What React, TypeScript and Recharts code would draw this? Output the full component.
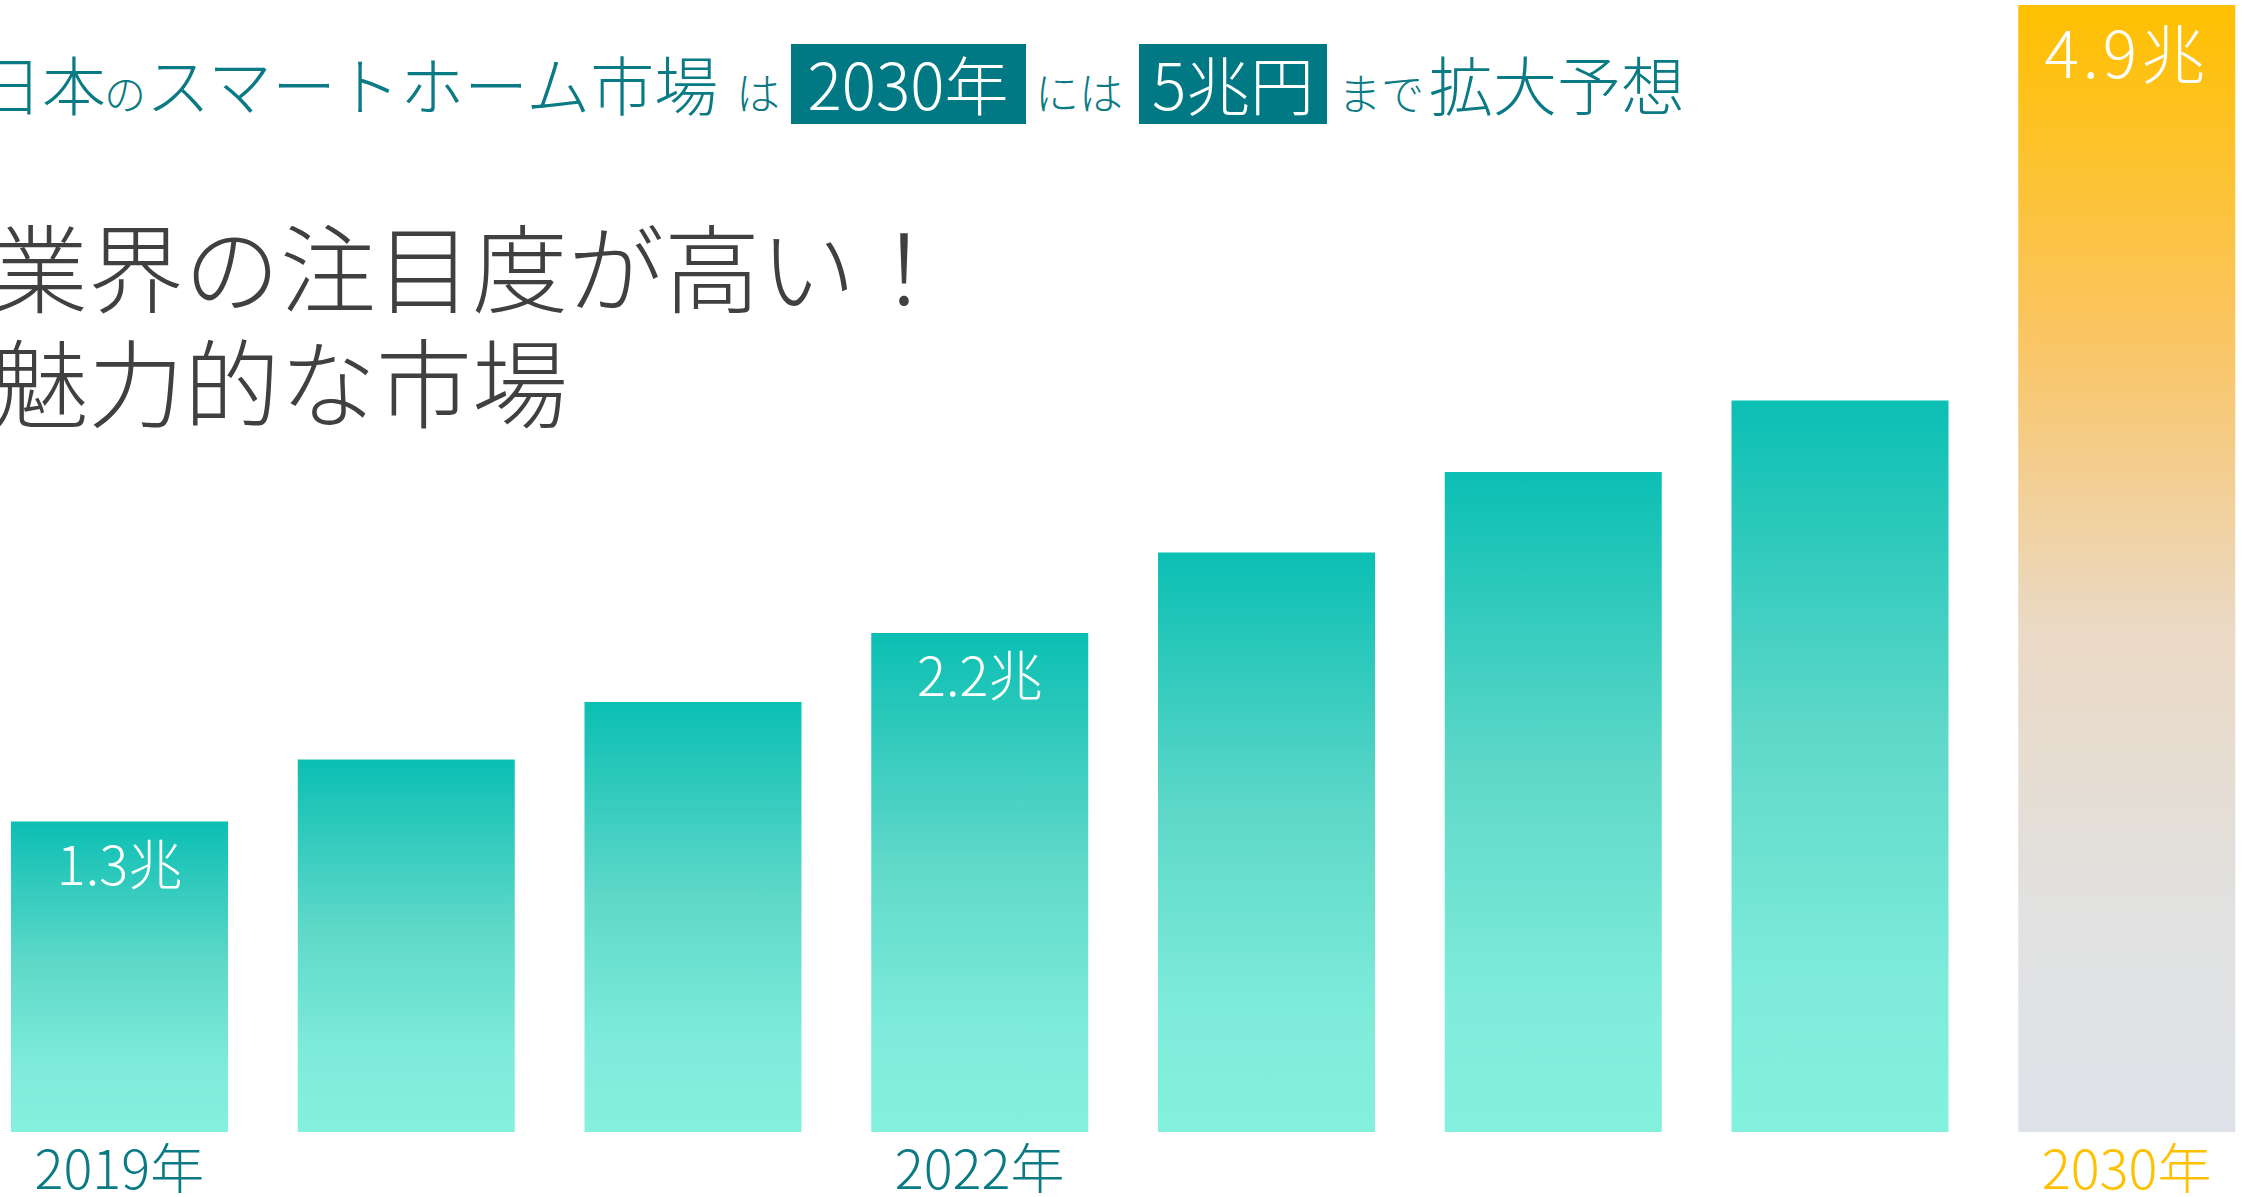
import React from 'react';
import { BarChart, Bar, XAxis, YAxis, Cell, LabelList } from 'recharts';

const categories = ['2019年', '2020年', '2021年', '2022年', '2023年', '2024年', '2025年', '2030年'];
const marketSize = [1.35, 1.62, 1.87, 2.17, 2.52, 2.87, 3.18, 4.9];
const valueLabels = ['1.3兆', '', '', '2.2兆', '', '', '', '4.9兆'];
const tickLabels = ['2019年', '', '', '2022年', '', '', '', '2030年'];
const headlineLines = ['業界の注目度が高い！', '魅力的な市場'];

const data = categories.map((c, i) => ({ category: c, value: marketSize[i], label: valueLabels[i], tick: tickLabels[i] }));

const FONT = "'Noto Sans CJK JP', 'Noto Sans', sans-serif";
const TEAL_TEXT = '#0A7A85';
const TEAL_BOX = '#007985';
const GOLD = '#FFC000';

const renderTick = (props: any) => {
  const { x, y, index } = props;
  const t = tickLabels[index];
  if (!t) return <g />;
  const last = index === tickLabels.length - 1;
  return (
    <text x={x} y={y + 25} textAnchor="middle" dominantBaseline="central" fontFamily={FONT} fontWeight={300} fontSize={54} fill={last ? GOLD : TEAL_TEXT}>
      {t}
    </text>
  );
};

const renderValueLabel = (props: any) => {
  const { x, y, width, index } = props;
  const t = valueLabels[index];
  if (!t) return <g />;
  const last = index === valueLabels.length - 1;
  return (
    <text x={x + width / 2} y={y + (last ? 45 : 40)} textAnchor="middle" dominantBaseline="central" fontFamily={FONT} fontWeight={300} fontSize={last ? 64 : 54} fill="#ffffff" letterSpacing={last ? 4 : 0}>
      {t}
    </text>
  );
};

const Title = () => (
  <svg width={2244} height={450} style={{ position: 'absolute', left: 0, top: 0 }}>
    <g fontFamily={FONT} fontWeight={300}>
      <text x={-22} y={110} fontSize={64} fill={TEAL_TEXT}>日本</text>
      <text x={104} y={110} fontSize={42} fill={TEAL_TEXT}>の</text>
      <text x={146} y={110} fontSize={64} fill={TEAL_TEXT}>スマートホーム市場</text>
      <text x={736} y={110} fontSize={44} fill={TEAL_TEXT}>は</text>
      <rect x={791} y={44} width={235} height={80} fill={TEAL_BOX} />
      <text x={908} y={110} fontSize={64} fill="#ffffff" textAnchor="middle">2030年</text>
      <text x={1035} y={110} fontSize={44} fill={TEAL_TEXT}>には</text>
      <rect x={1139} y={44} width={188} height={80} fill={TEAL_BOX} />
      <text x={1233} y={110} fontSize={64} fill="#ffffff" textAnchor="middle">5兆円</text>
      <text x={1338} y={110} fontSize={43} fill={TEAL_TEXT}>まで</text>
      <text x={1429} y={110} fontSize={64} fill={TEAL_TEXT}>拡大予想</text>
      <text x={-8} y={305} fontSize={96} fill="#404040">{headlineLines[0]}</text>
      <text x={-8} y={420} fontSize={96} fill="#404040">{headlineLines[1]}</text>
    </g>
  </svg>
);

export default function App() {
  return (
    <div style={{ position: 'fixed', left: 0, top: 0, width: 2244, height: 1197, overflow: 'hidden', background: '#ffffff' }}>
      <div style={{ position: 'absolute', left: -24, top: 0 }}>
        <BarChart width={2294} height={1197} data={data} margin={{ top: 5, right: 0, left: 0, bottom: 0 }}>
          <defs>
            <linearGradient id="tealGrad" x1="0" y1="0" x2="0" y2="1">
              <stop offset="0%" stopColor="#0BBFB3" />
              <stop offset="45%" stopColor="#5ED8C9" />
              <stop offset="80%" stopColor="#7FECDB" />
              <stop offset="100%" stopColor="#84F0DE" />
            </linearGradient>
            <linearGradient id="goldGrad" x1="0" y1="0" x2="0" y2="1">
              <stop offset="0%" stopColor="#FFC000" />
              <stop offset="30%" stopColor="#FAC565" />
              <stop offset="55%" stopColor="#EBD9C4" />
              <stop offset="80%" stopColor="#E1E1E0" />
              <stop offset="100%" stopColor="#DEE2E8" />
            </linearGradient>
          </defs>
          <XAxis dataKey="category" axisLine={false} tickLine={false} height={65} interval={0} tick={renderTick} />
          <YAxis hide domain={[0, 4.9]} />
          <Bar dataKey="value" barSize={217} isAnimationActive={false}>
            {data.map((d, i) => (
              <Cell key={d.category} fill={i === data.length - 1 ? 'url(#goldGrad)' : 'url(#tealGrad)'} />
            ))}
            <LabelList dataKey="label" content={renderValueLabel} />
          </Bar>
        </BarChart>
      </div>
      <Title />
    </div>
  );
}
